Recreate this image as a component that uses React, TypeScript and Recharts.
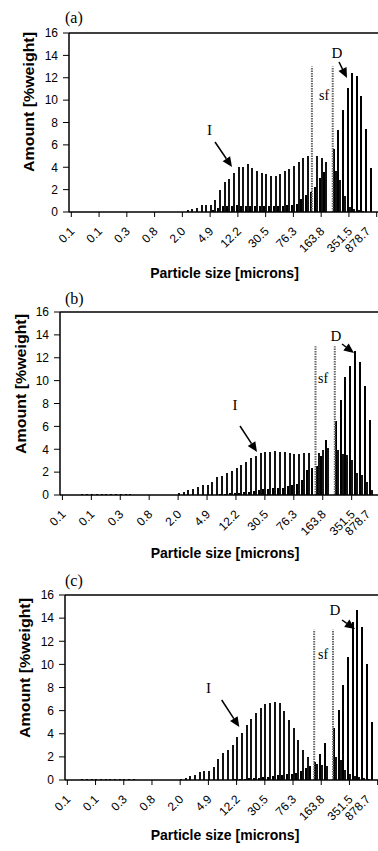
import { BarChart, Bar, XAxis, YAxis, ReferenceLine } from "recharts";

// particle size bins, labelled every 6th bin
const TICK_LABELS = ["0.1", "0.1", "0.3", "0.8", "2.0", "4.9", "12.2", "30.5", "76.3", "163.8", "351.5", "878.7"];
const Y_TICKS = [0, 2, 4, 6, 8, 10, 12, 14, 16];

// (a) amount [%weight] per bin: I = intermediate, D = dense
const I_A = [
  0, 0, 0, 0, 0, 0, 0, 0, 0, 0,
  0, 0, 0, 0, 0, 0, 0, 0, 0, 0,
  0, 0, 0, 0, 0, 0.15, 0.25, 0.35, 0.6, 0.6,
  0.6, 1.05, 1.96, 2.68, 2.95, 3.45, 4.0, 4.0, 4.25, 3.9,
  3.7, 3.5, 3.36, 3.24, 3.24, 3.36, 3.66, 3.84, 4.14, 4.5,
  4.8, 5.05, 0, 5.05, 4.8, 4.45, 0, 3.7, 2.86, 1.4,
  0.45, 0.3, 0.2, 0.1, 0, 0, 0,
];
const D_A = [
  0, 0, 0, 0, 0, 0, 0, 0, 0, 0,
  0, 0, 0, 0, 0, 0, 0, 0, 0, 0,
  0, 0, 0, 0, 0, 0, 0, 0, 0, 0,
  0, 0.2, 0.35, 0.5, 0.5, 0.55, 0.6, 0.55, 0.55, 0.55,
  0.5, 0.5, 0.5, 0.5, 0.5, 0.5, 0.55, 0.6, 0.6, 0.75,
  1.2, 1.5, 1.8, 2.2, 3.0, 3.6, 0, 5.6, 7.3, 9.1,
  11.1, 12.45, 12.2, 10.4, 7.45, 3.9, 0,
];

// (b)
const I_B = [
  0, 0, 0, 0, 0.12, 0.12, 0.12, 0.12, 0.12, 0.12,
  0.12, 0.12, 0.12, 0.12, 0.12, 0, 0, 0, 0, 0,
  0, 0, 0, 0, 0.2, 0.3, 0.44, 0.5, 0.67, 0.87,
  0.87, 1.17, 1.55, 1.66, 1.95, 2.1, 2.4, 2.6, 2.9, 3.2,
  3.44, 3.64, 3.73, 3.73, 3.85, 3.8, 3.73, 3.7, 3.6, 3.6,
  3.64, 3.7, 0, 3.64, 3.9, 4.1, 0, 3.94, 3.6, 3.5,
  3.06, 1.9, 1.75, 1.17, 0.44, 0, 0,
];
const D_B = [
  0, 0, 0, 0, 0, 0, 0, 0, 0, 0,
  0, 0, 0, 0, 0, 0, 0, 0, 0, 0,
  0, 0, 0, 0, 0, 0, 0, 0, 0, 0,
  0, 0, 0, 0.1, 0.12, 0.15, 0.18, 0.2, 0.25, 0.3,
  0.35, 0.4, 0.5, 0.55, 0.58, 0.58, 0.6, 0.75, 0.87, 1.0,
  1.3, 2.2, 2.4, 2.5, 3.44, 4.8, 0, 6.45, 8.3, 10.3,
  11.3, 12.6, 11.6, 9.5, 6.55, 0, 0,
];

// (c)
const I_C = [
  0, 0, 0, 0.12, 0.12, 0.12, 0.12, 0.12, 0.12, 0.12,
  0.12, 0.12, 0.12, 0.12, 0.12, 0, 0, 0, 0, 0,
  0, 0, 0, 0, 0.1, 0.17, 0.37, 0.46, 0.66, 0.8,
  0.8, 1.15, 1.8, 2.36, 2.6, 3.0, 3.75, 4.1, 4.75, 5.25,
  5.8, 6.2, 6.57, 6.7, 6.77, 6.7, 6.0, 5.2, 4.47, 3.46,
  2.6, 1.96, 0, 1.4, 1.3, 1.2, 0, 2.0, 1.7, 0.86,
  0.5, 0.35, 0.25, 0.15, 0.1, 0, 0,
];
const D_C = [
  0, 0, 0, 0, 0, 0, 0, 0, 0, 0,
  0, 0, 0, 0, 0, 0, 0, 0, 0, 0,
  0, 0, 0, 0, 0, 0, 0, 0, 0, 0,
  0, 0, 0, 0, 0, 0, 0.1, 0.1, 0.12, 0.15,
  0.15, 0.2, 0.25, 0.3, 0.35, 0.4, 0.45, 0.5, 0.55, 0.6,
  0.8, 1.0, 1.2, 1.6, 2.25, 3.2, 0, 4.47, 6.05, 8.2,
  10.66, 13.7, 14.7, 13.2, 10.0, 5.04, 0,
];

const SF_TOP = 13;

const SANS = "'Liberation Sans', Arial, Helvetica, sans-serif";
const SERIF = "'Liberation Serif', 'Times New Roman', serif";

const PANELS = [
  { key: "a", inter: I_A, dense: D_A, left: 69, plotTop: 33, plotH: 179, binW: 4.62, sf: [{ bin: 52, pos: "middle" }, { bin: 57, pos: "start" }] },
  { key: "b", inter: I_B, dense: D_B, left: 60, plotTop: 312, plotH: 183, binW: 4.817, sf: [{ bin: 53, pos: "start" }, { bin: 57, pos: "start" }] },
  { key: "c", inter: I_C, dense: D_C, left: 65, plotTop: 595, plotH: 185, binW: 4.7, sf: [{ bin: 53, pos: "start" }, { bin: 57, pos: "start" }] },
];

// annotation positions on the page
const NOTES = [
  { tag: "(a)", tagY: 23, yT: [28.5, 102], xT: [224.5, 278], iT: [209.5, 135], iA: [215, 142, 232, 167], dT: [337, 58], dA: [339, 62, 347, 78], sf: [319, 100] },
  { tag: "(b)", tagY: 304, yT: [20.5, 384], xT: [225, 558], iT: [235, 410], iA: [240, 426, 257, 452], dT: [336, 341], dA: [342, 344, 354, 353], sf: [318, 383] },
  { tag: "(c)", tagY: 586, yT: [24.5, 668], xT: [225, 840], iT: [208.5, 693], iA: [221.7, 700, 239.3, 727], dT: [335, 615], dA: [342, 620, 355, 629], sf: [318, 659] },
];

function SizeTick(props: any) {
  const { x, y, payload } = props;
  const label = TICK_LABELS[payload.value / 6];
  if (label === undefined) return null;
  const ax = Math.min(x + 4, 371);
  const ay = y + 13;
  return (
    <text x={ax} y={ay} transform={`rotate(-45 ${ax} ${ay})`} textAnchor="end" fontSize={12} fontFamily={SANS} fill="#000">
      {label}
    </text>
  );
}

function Panel({ p }: { p: any }) {
  const rows = p.inter.map((v: number, i: number) => ({ bin: i, inter: v, dense: p.dense[i] }));
  const width = Math.round(p.left + rows.length * p.binW);
  const top = 10;
  const axisH = 45;
  return (
    <div style={{ position: "absolute", left: 0, top: p.plotTop - top }}>
      <BarChart
        width={width}
        height={top + p.plotH + axisH}
        data={rows}
        margin={{ top, right: 0, bottom: 0, left: 0 }}
        barCategoryGap={0}
        barGap={0}
      >
        <XAxis
          dataKey="bin"
          type="category"
          interval={5}
          height={axisH}
          tickSize={5}
          axisLine={{ stroke: "#000", strokeWidth: 1.5 }}
          tickLine={{ stroke: "#000" }}
          tick={<SizeTick />}
        />
        <YAxis
          type="number"
          domain={[0, 16]}
          ticks={Y_TICKS}
          interval={0}
          width={p.left}
          tickSize={6}
          tickMargin={5}
          axisLine={{ stroke: "#000", strokeWidth: 1.5 }}
          tickLine={{ stroke: "#000" }}
          tick={{ fontSize: 12, fill: "#000", fontFamily: SANS }}
        />
        <Bar dataKey="dense" fill="#000" shapeRendering="crispEdges" isAnimationActive={false} />
        <Bar dataKey="inter" fill="#141414" shapeRendering="crispEdges" isAnimationActive={false} />
        <ReferenceLine y={16} stroke="#000" strokeWidth={1.5} />
        {p.sf.map((s: any) => (
          <ReferenceLine
            key={s.bin}
            segment={[{ x: s.bin, y: 0 }, { x: s.bin, y: SF_TOP }]}
            position={s.pos}
            stroke="#666"
            strokeWidth={2}
            strokeDasharray="1.5 1"
          />
        ))}
      </BarChart>
    </div>
  );
}

function Arrow({ a }: { a: number[] }) {
  const [x1, y1, x2, y2] = a;
  const dx = x2 - x1;
  const dy = y2 - y1;
  const len = Math.hypot(dx, dy);
  const ux = dx / len;
  const uy = dy / len;
  const hl = 10;
  const hw = 4.5;
  const bx = x2 - ux * hl;
  const by = y2 - uy * hl;
  const pts = `${x2},${y2} ${bx - uy * hw},${by + ux * hw} ${bx + uy * hw},${by - ux * hw}`;
  return (
    <g>
      <line x1={x1} y1={y1} x2={bx} y2={by} stroke="#000" strokeWidth={1.5} />
      <polygon points={pts} fill="#000" />
    </g>
  );
}

export default function App() {
  return (
    <div style={{ position: "absolute", left: 0, top: 0, width: 378, height: 851, overflow: "hidden", background: "#fff" }}>
      {PANELS.map((p) => (
        <Panel key={p.key} p={p} />
      ))}
      <svg width={378} height={851} style={{ position: "absolute", left: 0, top: 0, pointerEvents: "none" }}>
        {NOTES.map((n) => (
          <g key={n.tag}>
            <text x={65} y={n.tagY} fontFamily={SERIF} fontSize={16} fill="#000">{n.tag}</text>
            <text
              transform={`translate(${n.yT[0]} ${n.yT[1]}) rotate(-90)`}
              textAnchor="middle"
              dominantBaseline="central"
              fontFamily={SANS}
              fontWeight="bold"
              fontSize={14}
              textLength={140}
              lengthAdjust="spacingAndGlyphs"
              fill="#000"
            >
              Amount [%weight]
            </text>
            <text x={n.xT[0]} y={n.xT[1]} textAnchor="middle" fontFamily={SANS} fontWeight="bold" fontSize={14} fill="#000">
              Particle size [microns]
            </text>
            <text x={n.iT[0]} y={n.iT[1]} textAnchor="middle" fontFamily={SERIF} fontSize={15} fill="#000">I</text>
            <Arrow a={n.iA} />
            <text x={n.dT[0]} y={n.dT[1]} textAnchor="middle" fontFamily={SERIF} fontSize={15} fill="#000">D</text>
            <Arrow a={n.dA} />
            <text x={n.sf[0]} y={n.sf[1]} fontFamily={SERIF} fontSize={14} fill="#000">sf</text>
          </g>
        ))}
      </svg>
    </div>
  );
}
